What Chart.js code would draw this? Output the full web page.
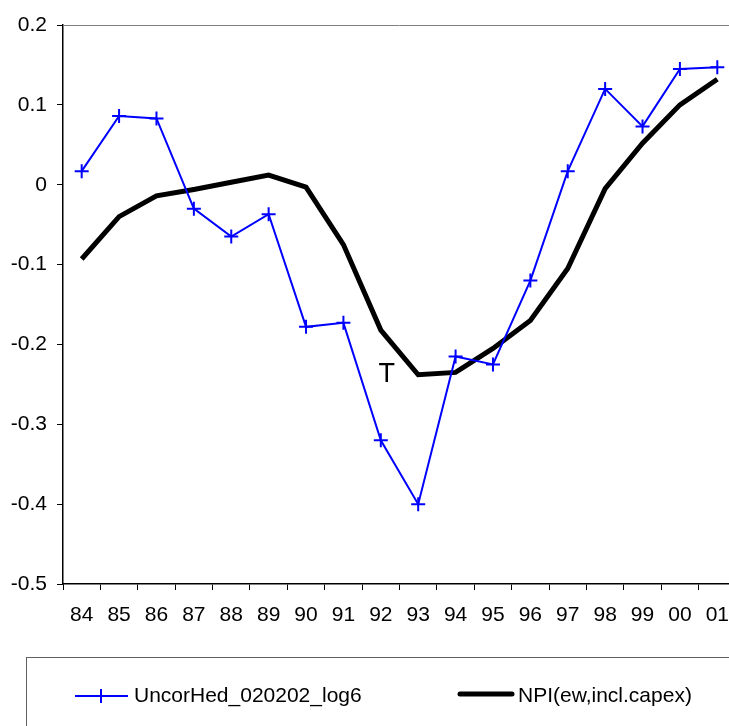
<!DOCTYPE html>
<html>
<head>
<meta charset="utf-8">
<script src="https://cdn.jsdelivr.net/npm/chart.js@4/dist/chart.umd.min.js"></script>
<style>
  html, body { margin: 0; padding: 0; background: #fff; overflow: hidden; }
  #wrap { width: 745px; height: 726px; }
</style>
</head>
<body>
<div id="wrap"><canvas id="npiChart" width="745" height="726"></canvas></div>
<script>
// years on the x axis
const years = ["84", "85", "86", "87", "88", "89", "90", "91", "92", "93",
  "94", "95", "96", "97", "98", "99", "00", "01"];

// series values
const uncorHed = [0.017, 0.086, 0.083, -0.030, -0.065, -0.037, -0.178, -0.173, -0.320,
  -0.400, -0.215, -0.225, -0.120, 0.017, 0.120, 0.073, 0.145, 0.147];
const npi = [-0.093, -0.040, -0.014, -0.006, 0.003, 0.012, -0.003, -0.075, -0.182,
  -0.238, -0.235, -0.205, -0.170, -0.105, -0.005, 0.052, 0.100, 0.132];

const seriesNames = ["UncorHed_020202_log6", "NPI(ew,incl.capex)"];
const yTicks = [0.2, 0.1, 0, -0.1, -0.2, -0.3, -0.4, -0.5];

const FONT = "'Liberation Sans', Arial, sans-serif";

// border on top of plot area, the "T" note and the boxed legend
const extras = {
  id: "extras",
  afterDraw(chart) {
    const c = chart.ctx;
    const area = chart.chartArea;
    const xs = chart.scales.x, ys = chart.scales.y;
    c.save();

    // gray top edge of the plot area
    c.strokeStyle = "#808080";
    c.lineWidth = 1;
    c.beginPath();
    c.moveTo(area.left, area.top + 0.5);
    c.lineTo(area.right, area.top + 0.5);
    c.stroke();

    // "T" note
    c.fillStyle = "#000";
    c.font = "27px " + FONT;
    c.textAlign = "center";
    c.textBaseline = "middle";
    c.fillText("T", xs.getPixelForValue(8.16), ys.getPixelForValue(-0.238));

    // legend box
    c.strokeStyle = "#606060";
    c.lineWidth = 1;
    c.strokeRect(26.5, 657.5, 760, 120);

    c.font = "21px " + FONT;
    c.textAlign = "left";
    c.textBaseline = "middle";

    // blue sample
    c.strokeStyle = "#0000ff";
    c.lineWidth = 2;
    c.beginPath();
    c.moveTo(75, 696); c.lineTo(128, 696);
    c.moveTo(101, 689); c.lineTo(101, 703);
    c.stroke();
    c.fillStyle = "#000";
    c.fillText(seriesNames[0], 134, 696);

    // black sample
    c.strokeStyle = "#000";
    c.lineWidth = 5;
    c.lineCap = "round";
    c.beginPath();
    c.moveTo(460, 694); c.lineTo(512, 694);
    c.stroke();
    c.fillText(seriesNames[1], 518, 696);

    c.restore();
  }
};

const ctx = document.getElementById("npiChart");

new Chart(ctx, {
  type: "line",
  data: {
    labels: years,
    datasets: [
      {
        label: seriesNames[0],
        data: uncorHed,
        borderColor: "#0000ff",
        backgroundColor: "#0000ff",
        borderWidth: 2,
        pointStyle: "cross",
        pointRadius: 7,
        pointBorderWidth: 2,
        pointBorderColor: "#0000ff",
        tension: 0
      },
      {
        label: seriesNames[1],
        data: npi,
        borderColor: "#000",
        backgroundColor: "#000",
        borderWidth: 5,
        pointRadius: 0,
        tension: 0
      }
    ]
  },
  options: {
    responsive: false,
    animation: false,
    events: [],
    layout: { padding: { left: 0, top: 25, right: 7, bottom: 0 } },
    plugins: {
      legend: { display: false },
      tooltip: { enabled: false }
    },
    scales: {
      x: {
        offset: true,
        afterFit(scale) { scale.height = 142; },
        grid: {
          offset: true,
          drawOnChartArea: false,
          drawTicks: true,
          tickLength: 6,
          tickColor: "#000",
          tickWidth: 1
        },
        border: { display: true, color: "#000", width: 1.5 },
        ticks: {
          color: "#000",
          font: { family: FONT, size: 21 },
          padding: 13,
          maxRotation: 0,
          autoSkip: false
        }
      },
      y: {
        min: -0.5,
        max: 0.2,
        afterFit(scale) { scale.width = 63; },
        afterBuildTicks(scale) {
          scale.ticks = yTicks.map(v => ({ value: v }));
        },
        grid: {
          drawOnChartArea: false,
          drawTicks: true,
          tickLength: 6,
          tickColor: "#000",
          tickWidth: 1
        },
        border: { display: true, color: "#000", width: 1.5 },
        ticks: {
          color: "#000",
          font: { family: FONT, size: 21 },
          padding: 10,
          callback: v => (Math.abs(v) < 1e-9 ? "0" : String(Math.round(v * 10) / 10))
        }
      }
    }
  },
  plugins: [extras]
});
</script>
</body>
</html>
